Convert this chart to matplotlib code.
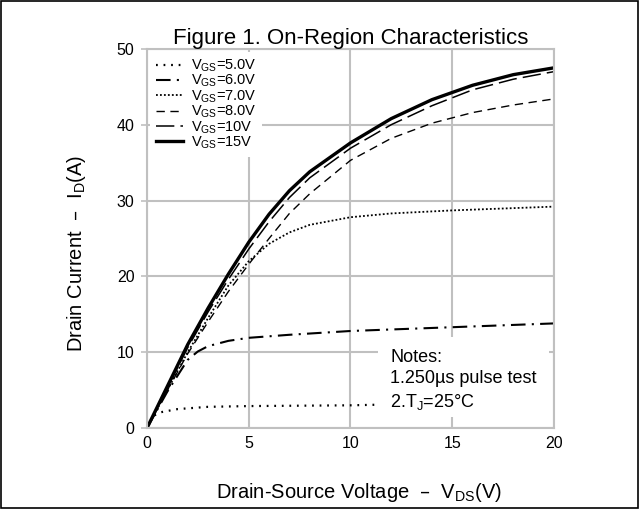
import matplotlib
matplotlib.use('Agg')
from matplotlib import pyplot as plt
from matplotlib.patches import Rectangle

plt.rcParams['font.family'] = ['Liberation Sans', 'DejaVu Sans']
plt.rcParams['mathtext.default'] = 'regular'

# curves, VDS (V) vs ID (A)
vds_15 = [0, 1, 2, 3, 4, 5, 6, 7, 8, 10, 12, 14, 16, 18, 20]
id_15 = [0, 5.5, 11, 15.8, 20.3, 24.5, 28.2, 31.3, 33.8, 37.6, 40.8, 43.3, 45.2, 46.6, 47.5]

vds_10 = [0, 1, 2, 3, 4, 5, 6, 7, 8, 10, 12, 14, 16, 18, 20]
id_10 = [0, 5.3, 10.6, 15.3, 19.6, 23.6, 27.2, 30.4, 33.0, 36.9, 40.0, 42.5, 44.6, 46.0, 47.0]

vds_8 = [0, 1, 2, 3, 4, 5, 6, 7, 8, 10, 12, 14, 16, 18, 20]
id_8 = [0, 5, 9.8, 14, 18, 21.6, 25, 28.3, 30.9, 35.3, 38.2, 40.2, 41.6, 42.6, 43.4]

vds_7 = [0, 1, 2, 3, 4, 5, 6, 7, 8, 10, 12, 15, 20]
id_7 = [0, 5, 10, 14.5, 18.8, 22, 24.3, 25.8, 26.8, 27.8, 28.3, 28.7, 29.2]

vds_6 = [0, 1, 2, 2.5, 3, 4, 5, 7, 10, 15, 20]
id_6 = [0, 4.8, 9, 10.1, 10.8, 11.5, 11.9, 12.3, 12.8, 13.3, 13.8]

vds_5 = [0, 0.3, 0.7, 1.5, 3, 5, 10, 15, 20]
id_5 = [0, 1.6, 2.1, 2.5, 2.8, 2.9, 3.0, 3.3, 3.6]

labels = ['V$_{GS}$=5.0V', 'V$_{GS}$=6.0V', 'V$_{GS}$=7.0V',
          'V$_{GS}$=8.0V', 'V$_{GS}$=10V', 'V$_{GS}$=15V']
x_ticks = [0, 5, 10, 15, 20]
y_ticks = [0, 10, 20, 30, 40, 50]

fig = plt.figure(figsize=(6.39, 5.09), dpi=100)
ax = fig.add_axes([0.230, 0.159, 0.637, 0.745])

ax.plot(vds_5, id_5, color='black', lw=1.6, ls=(0, (0.8, 2.6)), label=labels[0])
ax.plot(vds_6, id_6, color='black', lw=1.5, ls=(0, (7, 3, 1, 3)), label=labels[1])
ax.plot(vds_7, id_7, color='black', lw=1.3, ls=(0, (1, 1.2)), label=labels[2])
ax.plot(vds_8, id_8, color='black', lw=1.0, ls=(0, (6, 4)), label=labels[3])
ax.plot(vds_10, id_10, color='black', lw=1.1, ls=(0, (12, 4)), label=labels[4])
ax.plot(vds_15, id_15, color='black', lw=2.4, ls='-', label=labels[5])

ax.set_xlim(0, 20)
ax.set_ylim(0, 50)
ax.set_xticks(x_ticks)
ax.set_yticks(y_ticks)
ax.grid(True, color='#c0c0c0', lw=1.5)
ax.set_axisbelow(True)
for s in ax.spines.values():
    s.set_color('#c0c0c0')
    s.set_linewidth(1.5)
ax.tick_params(axis='y', colors='#c0c0c0', length=4, width=1.2, pad=5,
               labelcolor='black', labelsize=11.5)
ax.tick_params(axis='x', length=0, pad=6, labelcolor='black', labelsize=11.5)

ax.set_title('Figure 1. On-Region Characteristics', fontsize=16, pad=2)
ax.set_xlabel('Drain-Source Voltage  \u2013  V$_{DS}$(V)', fontsize=14.5)
ax.set_ylabel('Drain Current  \u2013  I$_D$(A)', fontsize=14.5)
ax.xaxis.set_label_coords(0.52, -0.14)
ax.yaxis.set_label_coords(-0.145, 0.46)

leg = ax.legend(loc='upper left', fontsize=10.5, handlelength=1.9,
                handletextpad=0.5, labelspacing=-0.07, borderpad=0.4,
                borderaxespad=0.2, frameon=True, fancybox=False)
leg.get_frame().set_edgecolor('none')
leg.get_frame().set_facecolor('white')
leg.get_frame().set_alpha(1)

# white notes panel over the curves
ax.add_patch(Rectangle((11.35, 1.45), 8.4, 10.55, facecolor='white',
                       edgecolor='none', zorder=4))
ax.text(11.95, 2.8, 'Notes:\n1.250\u00b5s pulse test\n2.T$_J$=25\u00b0C',
        fontsize=13, ha='left', va='baseline', linespacing=1.3, zorder=5)

fig.patches.append(Rectangle((0.001, 0.001), 0.997, 0.997, transform=fig.transFigure,
                             fill=False, edgecolor='black', lw=1.2))

fig.savefig('out.png', dpi=100)
